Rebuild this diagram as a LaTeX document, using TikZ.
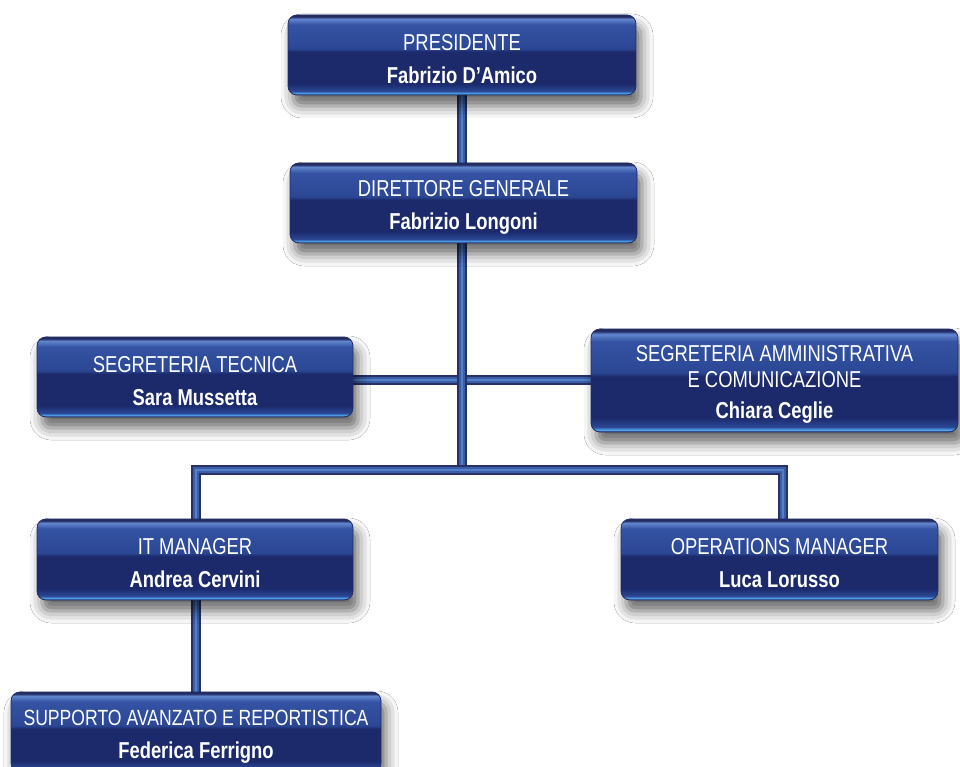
\documentclass[tikz,border=0pt]{standalone}
\usepackage{fontspec}
\setmainfont[FakeStretch=0.8]{Liberation Sans}
\usetikzlibrary{shadows.blur,calc}
\definecolor{boxtop}{HTML}{3553A3}
\definecolor{boxmid}{HTML}{2B4794}
\definecolor{boxdark}{HTML}{1C2A6C}
\definecolor{boxedge}{HTML}{222C62}
\definecolor{boxglow}{HTML}{52A6F0}
\definecolor{boxhi}{HTML}{6287CF}
\definecolor{tubeout}{HTML}{283066}
\definecolor{tubein}{HTML}{3A5FA8}
\definecolor{tubehi}{HTML}{5380C8}
% stops mapped into the 25bp..75bp band that TikZ stretches onto the path
\pgfdeclareverticalshading{boxshade}{100bp}{
  color(0bp)=(boxedge);
  color(25bp)=(boxedge);
  color(26bp)=(boxglow);
  color(27.5bp)=(boxmid);
  color(32bp)=(boxdark);
  color(52bp)=(boxdark);
  color(54bp)=(boxmid);
  color(69bp)=(boxtop);
  color(72.5bp)=(boxhi);
  color(74bp)=(boxedge);
  color(100bp)=(boxedge)}
\tikzset{
  orgbox/.style={rounded corners=9pt, draw=boxedge, line width=0.8pt,
    shading=boxshade, text=white, align=center, inner sep=0pt,
    font=\fontsize{23}{26}\selectfont,
    blur shadow={shadow xshift=5pt, shadow yshift=-11pt, shadow blur radius=12pt, shadow opacity=60}},
  tube/.style={line width=10pt, draw=tubeout, line join=miter,
    postaction={draw=tubein, line width=6.5pt, line join=miter},
    postaction={draw=tubehi, line width=2pt, line join=miter}}
}
\newcommand{\toppad}{\rule{0pt}{24pt}}
\begin{document}
\begin{tikzpicture}[x=1pt,y=-1pt]
\useasboundingbox (0,0) rectangle (960,767);
\fill[white] (0,0) rectangle (960,767);
% coordinates
\coordinate (mid) at (462,380);
\coordinate (bus) at (462,470);
\coordinate (pbot) at (462,93);
\coordinate (dtop) at (462,165);
\coordinate (dbot) at (462,241);
\coordinate (stR) at (351,380);
\coordinate (saL) at (593,380);
\coordinate (itTop) at (196,521);
\coordinate (omTop) at (783,521);
\coordinate (itBot) at (196,598);
\coordinate (supTop) at (196,694);
% connectors (drawn first, boxes on top)
\draw[tube] (pbot) -- (dtop);
\draw[tube] (stR) -- (saL);
\draw[tube] (dbot) -- (bus);
\draw[tube] (itTop) |- (bus) -| (omTop);
\draw[tube] (itBot) -- (supTop);
% boxes
\node[orgbox, minimum width=348pt, minimum height=80pt] (p) at (462,55)
  {\toppad PRESIDENTE\\[7pt]{\bfseries Fabrizio D’Amico}};
\node[orgbox, minimum width=347pt, minimum height=80pt] (d) at (463.5,203)
  {\toppad DIRETTORE GENERALE\\[7pt]{\bfseries Fabrizio Longoni}};
\node[orgbox, minimum width=316pt, minimum height=80pt] (st) at (195,377)
  {\toppad SEGRETERIA TECNICA\\[7pt]{\bfseries Sara Mussetta}};
\node[orgbox, minimum width=367pt, minimum height=103pt] (sa) at (774.5,380.5)
  {\toppad SEGRETERIA AMMINISTRATIVA\\E COMUNICAZIONE\\[5pt]{\bfseries Chiara Ceglie}};
\node[orgbox, minimum width=316pt, minimum height=81pt] (it) at (195,559.5)
  {\toppad IT MANAGER\\[7pt]{\bfseries Andrea Cervini}};
\node[orgbox, minimum width=317pt, minimum height=81pt] (om) at (779.5,559.5)
  {\toppad OPERATIONS MANAGER\\[7pt]{\bfseries Luca Lorusso}};
\node[orgbox, minimum width=370pt, minimum height=80pt] (sup) at (196,732)
  {\toppad{\fontsize{22}{26}\selectfont SUPPORTO AVANZATO E REPORTISTICA}\\[7pt]{\bfseries Federica Ferrigno}};
\end{tikzpicture}
\end{document}
